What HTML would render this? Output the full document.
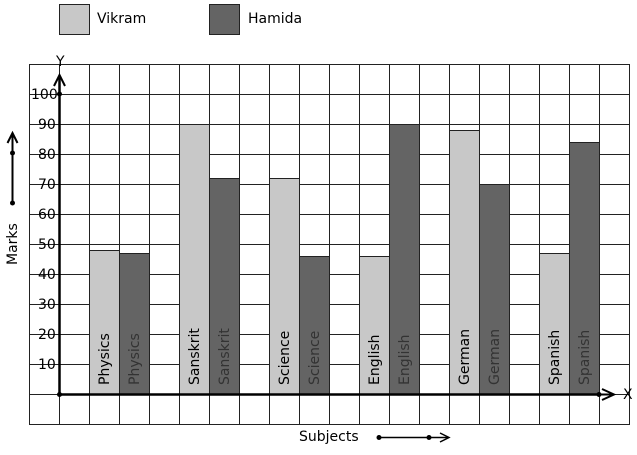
<!DOCTYPE html>
<html><head><meta charset="utf-8"><style>
body{margin:0;background:#fff;width:637px;height:450px;overflow:hidden}
text{font-family:"DejaVu Sans","Liberation Sans",sans-serif}
</style></head><body>
<svg id="chart" width="637" height="450" viewBox="0 0 637 450" xmlns="http://www.w3.org/2000/svg">
<g>
<rect x="59.5" y="4.5" width="30" height="30" fill="#c8c8c8" stroke="#222"/>
<text x="97" y="23" font-size="14">Vikram</text>
<rect x="209.5" y="4.5" width="30" height="30" fill="#646464" stroke="#222"/>
<text x="248" y="23" font-size="14">Hamida</text>
</g>
<g id="grid"></g>
<g id="bars"></g>
<g id="axes"></g>
</svg>
<script>
const subjects=["Physics","Sanskrit","Science","English","German","Spanish"];
const vikram=[48,90,72,46,88,47];
const hamida=[47,72,46,90,70,84];
const yTicks=[10,20,30,40,50,60,70,80,90,100];
const NS="http://www.w3.org/2000/svg";
const x0=59,y0=394,unit=3;
function yS(v){return y0-v*unit;}
function xS(i){return 89+i*90;}
function mk(tag,attrs,parent){const e=document.createElementNS(NS,tag);for(const k in attrs)e.setAttribute(k,attrs[k]);parent.appendChild(e);return e;}
const grid=document.getElementById('grid'),bars=document.getElementById('bars'),axes=document.getElementById('axes');
for(let i=0;i<=20;i++){const x=29.5+i*30;const l=mk('line',{x1:x,y1:64,x2:x,y2:424,stroke:'#222','stroke-width':1},grid);

}
for(let j=0;j<=12;j++){const y=64.5+j*30;const l=mk('line',{x1:29,y1:y,x2:630,y2:y,stroke:'#222','stroke-width':1},grid);

}
subjects.forEach((s,i)=>{
 const xv=xS(i),xh=xS(i)+30;
 const b1=mk('rect',{x:xv+0.5,y:yS(vikram[i])+0.5,width:30,height:vikram[i]*unit,fill:'#c8c8c8',stroke:'#222'},bars);
 
 
 const b2=mk('rect',{x:xh+0.5,y:yS(hamida[i])+0.5,width:30,height:hamida[i]*unit,fill:'#646464',stroke:'#222'},bars);
 
 
 const t1=mk('text',{transform:`translate(${xv+20},385) rotate(-90)`,'font-size':14,fill:'#000'},bars);t1.textContent=s;
 
 
 const t2=mk('text',{transform:`translate(${xh+20},385) rotate(-90)`,'font-size':14,fill:'#333'},bars);t2.textContent=s;
 
 
});
yTicks.forEach(v=>{const t=mk('text',{x:v===100?31:38,y:yS(v)+5,'font-size':14},axes);t.textContent=v;
 
 });
mk('line',{x1:59.5,y1:394,x2:59.5,y2:78,stroke:'#000','stroke-width':2.5},axes);
mk('path',{d:'M54,86 L59.5,75 L65,86',fill:'none',stroke:'#000','stroke-width':2},axes);
mk('line',{x1:59,y1:394.5,x2:600,y2:394.5,stroke:'#000','stroke-width':2.5},axes);
mk('path',{d:'M602,389 L614,394.5 L602,400 M598,394.5 L614,394.5',fill:'none',stroke:'#000','stroke-width':2},axes);
[[59.5,94],[59.5,394.5],[599,394.5]].forEach(p=>mk('circle',{cx:p[0],cy:p[1],r:2.5,fill:'#000'},axes));
mk('rect',{x:55,y:56,width:12,height:8,fill:'#fff'},axes);
const ty=mk('text',{x:56,y:66,'font-size':14},axes);ty.textContent='Y';
const tx=mk('text',{x:623,y:399,'font-size':14},axes);tx.textContent='X';
mk('line',{x1:12.5,y1:204,x2:12.5,y2:135,stroke:'#000','stroke-width':2},axes);
mk('path',{d:'M7.5,143 L12.5,133 L17.5,143',fill:'none',stroke:'#000','stroke-width':2},axes);
mk('circle',{cx:12.5,cy:153,r:2.5,fill:'#000'},axes);
mk('circle',{cx:12.5,cy:203,r:2.5,fill:'#000'},axes);
const ym=mk('text',{transform:'translate(17,265) rotate(-90)','font-size':14},axes);ym.textContent='Marks';


const xm=mk('text',{x:299,y:441,'font-size':14},axes);xm.textContent='Subjects';


mk('line',{x1:379,y1:437.5,x2:448,y2:437.5,stroke:'#000','stroke-width':1.5},axes);
mk('path',{d:'M440,433 L449,437.5 L440,442',fill:'none',stroke:'#000','stroke-width':1.5},axes);
mk('circle',{cx:379,cy:437.5,r:2.5,fill:'#000'},axes);
mk('circle',{cx:429,cy:437.5,r:2.5,fill:'#000'},axes);
</script>
</body></html>
